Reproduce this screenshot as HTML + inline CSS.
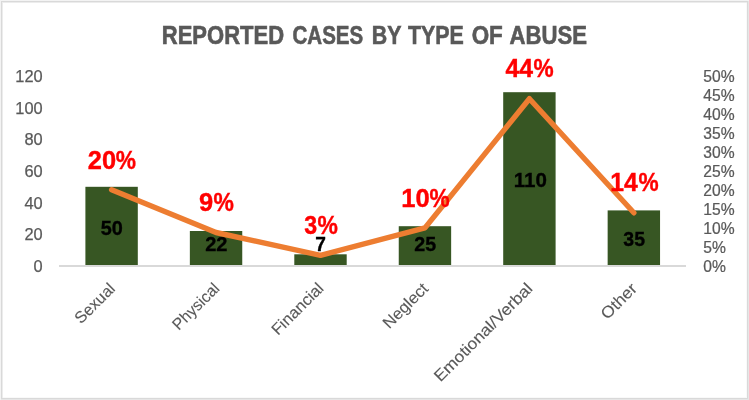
<!DOCTYPE html>
<html lang="en">
<head>
<meta charset="utf-8">
<title>Reported Cases by Type of Abuse</title>
<style>
  html, body { margin: 0; padding: 0; background: #ffffff; }
  body { width: 749px; height: 400px; overflow: hidden; }
  svg { display: block; }
  text { font-family: "Liberation Sans", sans-serif; }
  .title { font-size: 25.2px; font-weight: bold; fill: #595959; stroke: #595959; stroke-width: 0.6px; }
  .ax { font-size: 16.4px; fill: #595959; stroke: #595959; stroke-width: 0.25px; }
  .cat { font-size: 16.2px; fill: #595959; stroke: #595959; stroke-width: 0.1px; }
  .val { font-size: 21.0px; font-weight: bold; fill: #000000; stroke: #000000; stroke-width: 0.35px; }
  .pct { font-size: 25.5px; font-weight: bold; fill: #ff0000; stroke: #ff0000; stroke-width: 0.4px; }
</style>
</head>
<body>
<svg width="749" height="400" viewBox="0 0 749 400">
  <!-- chart frame -->
  <g shape-rendering="crispEdges">
    <rect x="0" y="0" width="749" height="400" fill="#f3f3f3"/>
    <rect x="1" y="399" width="748" height="1" fill="#e6e6e6"/>
    <rect x="748" y="1" width="1" height="399" fill="#e6e6e6"/>
    <rect x="1" y="1" width="747" height="398" fill="#d9d9d9"/>
    <rect x="2" y="2" width="745" height="396" fill="#ececec"/>
    <rect x="3" y="3" width="744" height="395" fill="#f9f9f9"/>
    <rect x="3" y="3" width="743" height="394" fill="#ffffff"/>
  </g>
  <!-- title -->
  <g class="title">
    <text transform="translate(161.78,44.0) scale(0.8738,1)">REPORTED</text>
    <text transform="translate(292.53,44.0) scale(0.815,1)">CASES</text>
    <text transform="translate(371.71,44.0) scale(0.8487,1)">BY</text>
    <text transform="translate(407.9,44.0) scale(0.8479,1)">TYPE</text>
    <text transform="translate(471.68,44.0) scale(0.8902,1)">OF</text>
    <text transform="translate(509.62,44.0) scale(0.8786,1)">ABUSE</text>
  </g>
  <!-- primary (left) axis labels -->
  <g class="ax" text-anchor="end">
    <text x="42.7" y="82.27">120</text>
    <text x="42.7" y="113.87">100</text>
    <text x="42.7" y="145.47">80</text>
    <text x="42.7" y="177.07">60</text>
    <text x="42.7" y="208.67">40</text>
    <text x="42.7" y="240.27">20</text>
    <text x="42.7" y="271.87">0</text>
  </g>
  <!-- secondary (right) axis labels -->
  <g class="ax" text-anchor="start">
    <text transform="translate(703.3,81.57) scale(0.955,1)">50%</text>
    <text transform="translate(703.3,100.57) scale(0.955,1)">45%</text>
    <text transform="translate(703.3,119.57) scale(0.955,1)">40%</text>
    <text transform="translate(703.3,138.57) scale(0.955,1)">35%</text>
    <text transform="translate(703.3,157.57) scale(0.955,1)">30%</text>
    <text transform="translate(703.3,176.57) scale(0.955,1)">25%</text>
    <text transform="translate(703.3,195.57) scale(0.955,1)">20%</text>
    <text transform="translate(703.3,214.57) scale(0.955,1)">15%</text>
    <text transform="translate(703.3,233.57) scale(0.955,1)">10%</text>
    <text transform="translate(703.3,252.57) scale(0.955,1)">5%</text>
    <text transform="translate(703.3,271.57) scale(0.955,1)">0%</text>
  </g>
  <!-- bars -->
  <g fill="#375623">
    <rect x="85.40" y="186.8" width="52.4" height="78.20"/>
    <rect x="189.85" y="231.0" width="52.4" height="34.00"/>
    <rect x="294.30" y="254.3" width="52.4" height="10.70"/>
    <rect x="398.75" y="226.2" width="52.4" height="38.80"/>
    <rect x="503.20" y="92.2" width="52.4" height="172.80"/>
    <rect x="607.65" y="210.4" width="52.4" height="54.60"/>
  </g>
  <!-- category axis line -->
  <rect x="59.2" y="265" width="626.5" height="2" fill="#d9d9d9" shape-rendering="crispEdges"/>
  <!-- bar value labels -->
  <g class="val">
    <text transform="translate(100.73,234.8) scale(0.9459,1)">50</text>
    <text transform="translate(205.13,251.2) scale(0.9548,1)">22</text>
    <text transform="translate(315.36,250.9) scale(0.9118,1)">7</text>
    <text transform="translate(414.24,251.2) scale(0.9372,1)">25</text>
    <text transform="translate(513.72,187.0) scale(0.9782,1)">110</text>
    <text transform="translate(623.32,246.4) scale(0.9292,1)">35</text>
  </g>
  <!-- percentage line series -->
  <polyline points="111.60,189.75 216.05,232.5 320.50,255.3 424.95,227.9 529.40,98.7 633.85,212.8" fill="none" stroke="#ed7d31" stroke-width="5.4" stroke-linecap="round" stroke-linejoin="round"/>
  <!-- percentage labels -->
  <g class="pct">
    <text y="168.55"><tspan x="87.8" textLength="28.3" lengthAdjust="spacingAndGlyphs">20</tspan><tspan x="115.79" textLength="20.23" lengthAdjust="spacingAndGlyphs">%</tspan></text>
    <text y="211.0"><tspan x="199.0" textLength="14.18" lengthAdjust="spacingAndGlyphs">9</tspan><tspan x="213.44" textLength="20.38" lengthAdjust="spacingAndGlyphs">%</tspan></text>
    <text y="234.0"><tspan x="304.14" textLength="12.88" lengthAdjust="spacingAndGlyphs">3</tspan><tspan x="317.54" textLength="20.38" lengthAdjust="spacingAndGlyphs">%</tspan></text>
    <text y="206.55"><tspan x="401.19" textLength="28.46" lengthAdjust="spacingAndGlyphs">10</tspan><tspan x="429.44" textLength="20.17" lengthAdjust="spacingAndGlyphs">%</tspan></text>
    <text y="77.0"><tspan x="505.41" textLength="27.55" lengthAdjust="spacingAndGlyphs">44</tspan><tspan x="533.54" textLength="20.17" lengthAdjust="spacingAndGlyphs">%</tspan></text>
    <text y="191.4"><tspan x="610.24" textLength="27.52" lengthAdjust="spacingAndGlyphs">14</tspan><tspan x="638.44" textLength="20.17" lengthAdjust="spacingAndGlyphs">%</tspan></text>
  </g>
  <!-- category labels -->
  <g class="cat" text-anchor="end">
    <text transform="translate(116.1,289.6) rotate(-45) scale(1.0,1)">Sexual</text>
    <text transform="translate(220.4,289.4) rotate(-45) scale(0.975,1)">Physical</text>
    <text transform="translate(324.7,289.3) rotate(-45) scale(1.02,1)">Financial</text>
    <text transform="translate(429.2,289.6) rotate(-45) scale(1.03,1)">Neglect</text>
    <text transform="translate(533.6,289.6) rotate(-45) scale(1.075,1)">Emotional/Verbal</text>
    <text transform="translate(638.0,289.6) rotate(-45) scale(1.07,1)">Other</text>
  </g>
</svg>
</body>
</html>
